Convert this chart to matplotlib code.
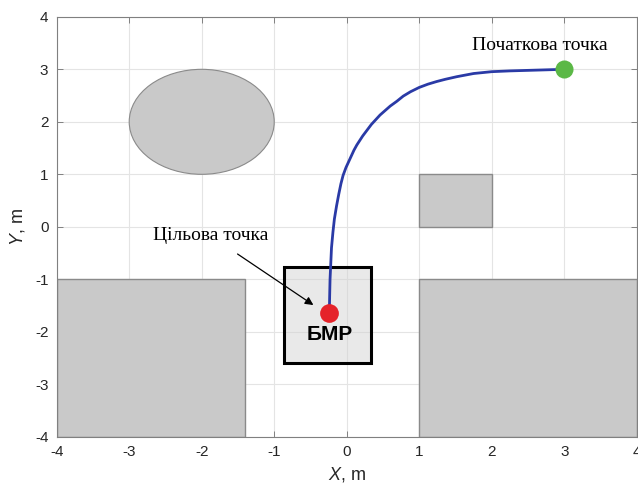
import matplotlib
matplotlib.use("Agg")
import matplotlib.pyplot as plt
from matplotlib.patches import Rectangle, Ellipse

plt.rcParams['font.family'] = ['Liberation Sans', 'DejaVu Sans']
plt.rcParams['mathtext.fontset'] = 'custom'
plt.rcParams['mathtext.rm'] = 'Liberation Sans'
plt.rcParams['mathtext.it'] = 'Liberation Sans:italic'
plt.rcParams['axes.unicode_minus'] = False

# Robot trajectory from the start point to the target
path_x = [3.0, 2.5, 2.25, 2.0, 1.75, 1.52, 1.36, 1.24, 1.12, 1.0, 0.88,
          0.78, 0.69, 0.60, 0.53, 0.46, 0.40, 0.34, 0.28, 0.22, 0.18,
          0.14, 0.10, 0.07, 0.03, -0.01, -0.05, -0.08, -0.11, -0.14,
          -0.17, -0.19, -0.21, -0.22, -0.23, -0.235, -0.24]
path_y = [3.0, 2.98, 2.97, 2.955, 2.92, 2.86, 2.81, 2.767, 2.717, 2.655, 2.573,
          2.49, 2.39, 2.30, 2.215, 2.13, 2.04, 1.95, 1.84, 1.73, 1.645,
          1.56, 1.46, 1.37, 1.25, 1.13, 0.98, 0.82, 0.62, 0.40,
          0.15, -0.10, -0.40, -0.70, -1.0, -1.3, -1.62]

start_pt = (3.0, 3.0)
target_pt = (-0.24, -1.65)

# Obstacles: (x0, y0, width, height)
rect_obstacles = [(-4.0, -4.0, 2.6, 3.0), (1.0, -4.0, 3.0, 3.0), (1.0, 0.0, 1.0, 1.0)]
ellipse_obstacle = ((-2.0, 2.0), 2.0, 2.0)

# Robot body around the target
robot_box = (-0.86, -2.6, 1.2, 1.83)
robot_label = "БМР"
start_label = "Початкова точка"
target_label = "Цільова точка"

ticks = [-4, -3, -2, -1, 0, 1, 2, 3, 4]

fig = plt.figure(figsize=(6.38, 4.86), dpi=100)
ax = fig.add_axes([0.0889, 0.1012, 0.9091, 0.8642])

obst_face = '#c9c9c9'
obst_edge = '#8a8a8a'
for (x0, y0, w, h) in rect_obstacles:
    ax.add_patch(Rectangle((x0, y0), w, h, facecolor=obst_face,
                           edgecolor=obst_edge, lw=1.0, zorder=2))
(cx, cy), ew, eh = ellipse_obstacle
ax.add_patch(Ellipse((cx, cy), ew, eh, facecolor=obst_face,
                     edgecolor=obst_edge, lw=0.8, zorder=2))

bx, by, bw, bh = robot_box
ax.add_patch(Rectangle((bx, by), bw, bh, facecolor='#d4d4d4', alpha=0.5,
                       edgecolor='none', zorder=2))
ax.add_patch(Rectangle((bx, by), bw, bh, facecolor='none',
                       edgecolor='black', lw=2.2, zorder=4))

ax.plot(path_x, path_y, color='#2a3aa6', lw=2.0, zorder=5,
        solid_capstyle='round', solid_joinstyle='round')
ax.plot(*start_pt, 'o', color='#5bb846', ms=13, mec='none', zorder=6)
ax.plot(*target_pt, 'o', color='#e5232a', ms=13.5, mec='none', zorder=6)

ax.text(target_pt[0], -2.06, robot_label, ha='center', va='center',
        fontsize=15, fontweight='bold', color='black', zorder=7)
ax.text(2.67, 3.46, start_label, ha='center', va='center', fontsize=14,
        family=['Liberation Serif', 'DejaVu Serif'], color='black', zorder=7)
ax.annotate(target_label, xy=(-0.46, -1.49), xytext=(-1.88, -0.17),
            ha='center', va='center', fontsize=14,
            family=['Liberation Serif', 'DejaVu Serif'], color='black',
            arrowprops=dict(arrowstyle='-|>', color='black', lw=0.9,
                            shrinkA=9, shrinkB=0, mutation_scale=12),
            zorder=7)

ax.set_xlim(-4, 4)
ax.set_ylim(-4, 4)
ax.set_xticks(ticks)
ax.set_yticks(ticks)
ax.grid(True, color='#e4e4e4', lw=0.8, zorder=0)
ax.set_axisbelow(True)
ax.tick_params(direction='in', length=4, width=0.7, top=True, right=True,
               labelsize=11, colors='#808080', labelcolor='#262626', pad=6)
for s in ax.spines.values():
    s.set_color('#808080')
    s.set_linewidth(0.8)

ax.set_xlabel(r'$X$, m', fontsize=13, color='#262626', labelpad=4)
ax.set_ylabel(r'$Y$, m', fontsize=13, color='#262626', labelpad=6)

fig.savefig('out.png', dpi=100)
